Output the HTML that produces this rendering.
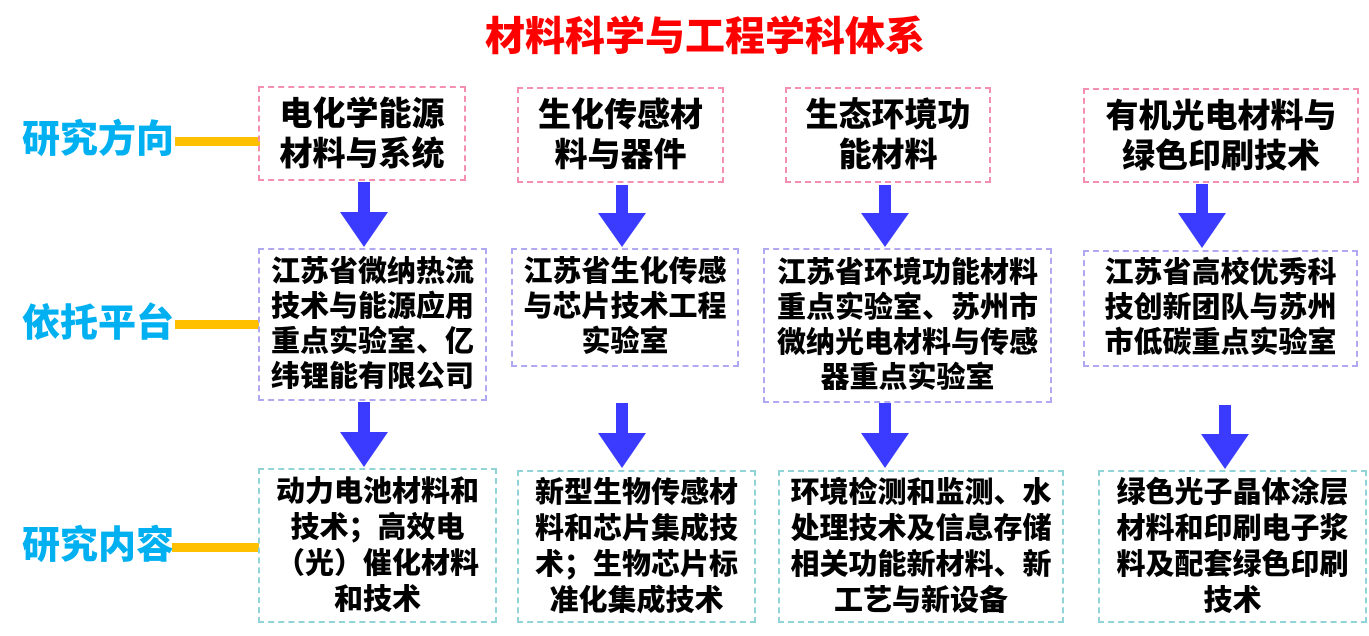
<!DOCTYPE html>
<html><head><meta charset="utf-8"><style>
body{margin:0;width:1369px;height:636px;background:#fff;position:relative;overflow:hidden;font-family:"Liberation Sans","Noto Sans CJK SC",sans-serif;font-weight:900}
.a{position:absolute}
.t{left:0;width:1410px;top:14px;text-align:center;color:#ff0000;font-size:40px;line-height:46px;font-weight:900}
.lab{color:#00b0f0;font-size:38px;line-height:44px;left:22px}
.bar{background:#ffc000;height:9px}
.box{position:absolute;box-sizing:border-box;display:flex;align-items:center;justify-content:center;text-align:center;color:#000}
.r1{border:2px dashed #f48fb1;font-size:33px;line-height:40px}
.r2{border:2px dashed #b0a8f0;font-size:29px;line-height:35px}
.r3{border:2px dashed #90d4d8;font-size:29px;line-height:36px}
</style></head><body>
<div class="a t">材料科学与工程学科体系</div>
<div class="a lab" style="top:118px">研究方向</div>
<div class="a bar" style="left:175px;top:137px;width:85px"></div>
<div class="a lab" style="top:302px">依托平台</div>
<div class="a bar" style="left:175px;top:320px;width:84px"></div>
<div class="a lab" style="top:524px">研究内容</div>
<div class="a bar" style="left:172px;top:543px;width:87px"></div>

<div class="box r1" style="left:258px;top:86px;width:208px;height:95px">电化学能源<br>材料与系统</div>
<div class="box r1" style="left:517px;top:87px;width:207px;height:96px">生化传感材<br>料与器件</div>
<div class="box r1" style="left:785px;top:87px;width:206px;height:96px">生态环境功<br>能材料</div>
<div class="box r1" style="left:1083px;top:88px;width:276px;height:95px">有机光电材料与<br>绿色印刷技术</div>

<div class="box r2" style="left:258px;top:248px;width:229px;height:153px">江苏省微纳热流<br>技术与能源应用<br>重点实验室、亿<br>纬锂能有限公司</div>
<div class="box r2" style="left:511px;top:248px;width:228px;height:119px">江苏省生化传感<br>与芯片技术工程<br>实验室</div>
<div class="box r2" style="left:763px;top:248px;width:289px;height:155px">江苏省环境功能材料<br>重点实验室、苏州市<br>微纳光电材料与传感<br>器重点实验室</div>
<div class="box r2" style="left:1083px;top:250px;width:275px;height:117px">江苏省高校优秀科<br>技创新团队与苏州<br>市低碳重点实验室</div>

<div class="box r3" style="left:258px;top:468px;width:239px;height:155px">动力电池材料和<br>技术；高效电<br>（光）催化材料<br>和技术</div>
<div class="box r3" style="left:517px;top:470px;width:239px;height:153px">新型生物传感材<br>料和芯片集成技<br>术；生物芯片标<br>准化集成技术</div>
<div class="box r3" style="left:778px;top:470px;width:286px;height:153px">环境检测和监测、水<br>处理技术及信息存储<br>相关功能新材料、新<br>工艺与新设备</div>
<div class="box r3" style="left:1098px;top:470px;width:269px;height:153px">绿色光子晶体涂层<br>材料和印刷电子浆<br>料及配套绿色印刷<br>技术</div>

<svg class="a" style="left:0;top:0" width="1369" height="636">
<g fill="#3b3bff">
<path d="M358 182h12v30h18l-24 35l-24-35h18z"/>
<path d="M358 402h12v30h18l-24 35l-24-35h18z"/>
<path d="M616 185h12v28h18l-24 34l-24-34h18z"/>
<path d="M616 403h12v30h18l-24 35l-24-35h18z"/>
<path d="M879 185h12v28h18l-24 34l-24-34h18z"/>
<path d="M879 403h12v30h18l-24 35l-24-35h18z"/>
<path d="M1196 184h12v29h18l-24 35l-24-35h18z"/>
<path d="M1219 405h12v29h18l-24 35l-24-35h18z"/>
</g></svg>
</body></html>
